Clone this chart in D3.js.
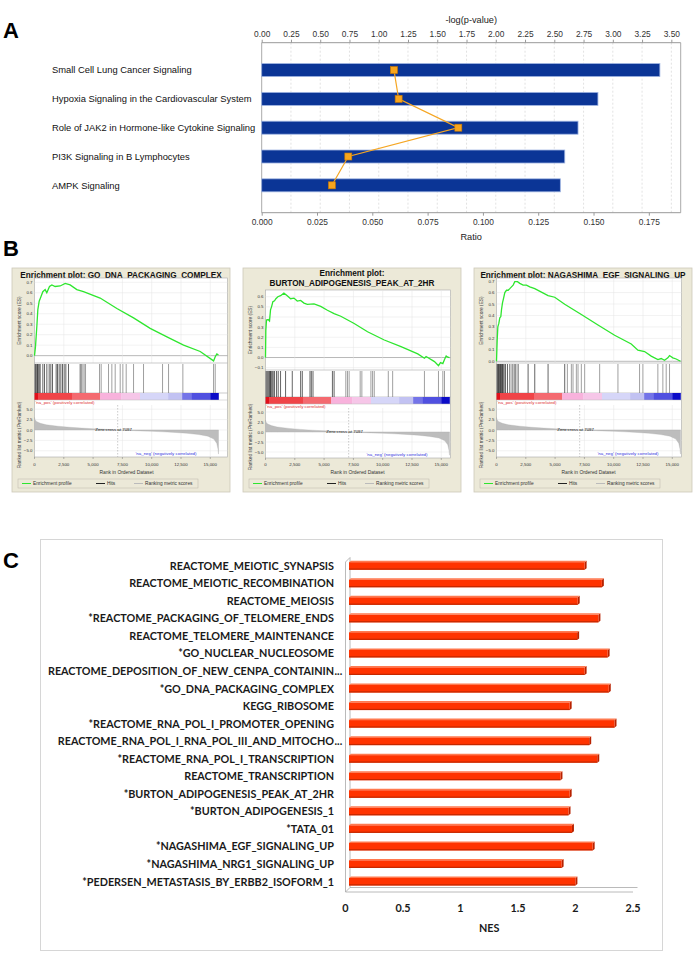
<!DOCTYPE html>
<html><head><meta charset="utf-8">
<script src="https://cdn.jsdelivr.net/npm/d3@7"></script>
<style>body{margin:0;background:#fff}svg{display:block}</style>
</head><body>
<svg id="c" width="700" height="960"></svg>
<script>
// ---------------- Panel A data ----------------
const pathways = ["Small Cell Lung Cancer Signaling","Hypoxia Signaling in the Cardiovascular System","Role of JAK2 in Hormone-like Cytokine Signaling","PI3K Signaling in B Lymphocytes","AMPK Signaling"];
const ratios = [0.180, 0.152, 0.143, 0.137, 0.135];
const negLogP = [1.13, 1.17, 1.68, 0.74, 0.60];
const ratioTicks = [0, 0.025, 0.05, 0.075, 0.1, 0.125, 0.15, 0.175];
const logpTicks = [0, 0.25, 0.5, 0.75, 1, 1.25, 1.5, 1.75, 2, 2.25, 2.5, 2.75, 3, 3.25, 3.5];

// ---------------- Panel B data ----------------
const gseaTitles = [["Enrichment plot: GO_DNA_PACKAGING_COMPLEX"], ["Enrichment plot:", "BURTON_ADIPOGENESIS_PEAK_AT_2HR"], ["Enrichment plot: NAGASHIMA_EGF_SIGNALING_UP"]];
const esCurve1 = [[0,0],[85,0.086],[200,0.28],[285,0.44],[400,0.52],[540,0.56],[710,0.61],[910,0.63],[1050,0.60],[1280,0.66],[1480,0.675],[1760,0.66],[2190,0.665],[2620,0.69],[3040,0.675],[3610,0.63],[4180,0.61],[4890,0.58],[5600,0.55],[7030,0.45],[8450,0.36],[9870,0.26],[11300,0.18],[12720,0.10],[14140,0.04],[15280,-0.05],[15420,-0.01],[15560,0.016],[15700,0.006]];
const esCurve2 = [[0,0],[29,0.27],[86,0.37],[228,0.375],[343,0.36],[428,0.47],[514,0.50],[628,0.55],[771,0.56],[885,0.58],[1056,0.60],[1285,0.61],[1570,0.635],[1856,0.61],[2141,0.58],[2427,0.586],[2712,0.557],[2998,0.563],[3283,0.537],[3569,0.524],[4140,0.53],[4711,0.505],[5282,0.466],[5853,0.433],[6424,0.407],[7566,0.336],[8708,0.254],[10135,0.173],[11563,0.107],[12990,0.036],[13561,-0.007],[13704,0.01],[14418,-0.04],[14760,-0.08],[14932,-0.05],[15132,-0.06],[15274,-0.02],[15417,0.016],[15560,0.003],[15700,0]];
const esCurve3 = [[0,0],[57,0.18],[114,0.30],[199,0.33],[284,0.38],[369,0.39],[426,0.45],[511,0.51],[625,0.56],[710,0.60],[852,0.62],[994,0.62],[1136,0.634],[1278,0.65],[1420,0.665],[1561,0.695],[1789,0.695],[1987,0.68],[2271,0.665],[2555,0.665],[2839,0.65],[3265,0.634],[3833,0.604],[4400,0.574],[4968,0.559],[5820,0.498],[7239,0.408],[8659,0.317],[10078,0.227],[11498,0.151],[12066,0.097],[12634,0.085],[13201,0.045],[13769,0.015],[14053,0.024],[14337,0.009],[14621,0.03],[14763,0.05],[15047,0.03],[15331,0.02],[15700,0]];
const hits1 = [57,114,199,256,313,398,484,711,854,1053,1252,1394,1536,1849,1963,2105,2248,2390,2532,2674,2902,3898,4011,4125,4239,4353,5548,5690,6316,6600,6885,7312,7539,7824,8450,9303,10925,11437,12660,15278,15420];
const hits2 = [57,143,228,314,371,428,485,571,657,771,942,1085,1285,1713,2284,2998,3141,3797,3911,4054,5710,5853,6852,6995,7137,8080,8223,8994,9137,9280,10478,10849,13561,14760,15132,15274];
const hits3 = [57,114,170,227,284,341,398,454,511,568,653,767,937,1136,1334,1505,1647,1845,2697,3265,4400,5820,6048,6388,6530,6814,6956,7239,7523,8801,10362,12208,12492,13769,14195,14479,14763];
const esTicks1 = [0,0.1,0.2,0.3,0.4,0.5,0.6,0.7];
const esTicks2 = [-0.1,0,0.1,0.2,0.3,0.4,0.5,0.6];
const esTicks3 = [0,0.1,0.2,0.3,0.4,0.5,0.6,0.7];
const rankMetric = [[0,3.0],[60,2.4],[200,2.0],[500,1.6],[1000,1.25],[2000,0.9],[3000,0.65],[4000,0.45],[5000,0.3],[6000,0.15],[7097,0],[8000,-0.12],[9000,-0.22],[10000,-0.32],[11000,-0.45],[12000,-0.6],[13000,-0.8],[14000,-1.1],[14800,-1.5],[15300,-2.2],[15550,-3.2],[15650,-4.5],[15700,-5.8]];
const rankTicks = [0,2500,5000,7500,10000,12500,15000];
const metricTicks = [5,2.5,0,-2.5,-5];
const colorBarEnds = [300,3200,5600,7400,9000,11400,12600,13400,15000,15700];
const colorBarColors = ["#e0101a","#f04448","#f46a70","#f8b2dc","#f6c6e8","#d6d6f8","#c2c2f2","#7474e8","#5050e0","#0c0cc8"];
const zeroCross = 7097;

// ---------------- Panel C data ----------------
const nesTerms = ["REACTOME_MEIOTIC_SYNAPSIS","REACTOME_MEIOTIC_RECOMBINATION","REACTOME_MEIOSIS","*REACTOME_PACKAGING_OF_TELOMERE_ENDS","REACTOME_TELOMERE_MAINTENANCE","*GO_NUCLEAR_NUCLEOSOME","REACTOME_DEPOSITION_OF_NEW_CENPA_CONTAININ...","*GO_DNA_PACKAGING_COMPLEX","KEGG_RIBOSOME","*REACTOME_RNA_POL_I_PROMOTER_OPENING","REACTOME_RNA_POL_I_RNA_POL_III_AND_MITOCHO...","*REACTOME_RNA_POL_I_TRANSCRIPTION","REACTOME_TRANSCRIPTION","*BURTON_ADIPOGENESIS_PEAK_AT_2HR","*BURTON_ADIPOGENESIS_1","*TATA_01","*NAGASHIMA_EGF_SIGNALING_UP","*NAGASHIMA_NRG1_SIGNALING_UP","*PEDERSEN_METASTASIS_BY_ERBB2_ISOFORM_1"];
const nesValues = [2.04,2.19,1.98,2.16,1.975,2.24,2.04,2.25,1.91,2.30,2.08,2.15,1.83,1.91,1.90,1.93,2.11,1.84,1.96];
const nesTicks = [0,0.5,1,1.5,2,2.5];

// =====================================================
const svg = d3.select("#c");
const SANS = "'Liberation Sans', Arial, sans-serif";

function panelLabel(t, x, y) {
  svg.append("text").attr("x", x).attr("y", y).attr("font-family", SANS).attr("font-weight", "bold")
    .attr("font-size", 22).attr("fill", "#000").text(t);
}
panelLabel("A", 3, 38);
panelLabel("B", 3, 256);
panelLabel("C", 3, 568);

// ---------------- Panel A ----------------
(function () {
  const A = { l: 261.7, r: 680.7, t: 42.7, b: 212.7 };
  const g = svg.append("g");
  const xR = d3.scaleLinear().domain([0, 0.19]).range([A.l, 682]);
  const xP = d3.scaleLinear().domain([0, 3.58]).range([A.l, A.r]);
  const y = d3.scalePoint().domain(pathways).range([A.t, A.b]).padding(0.95);

  g.selectAll(".grid").data(logpTicks.slice(1)).join("line")
    .attr("x1", d => xP(d)).attr("x2", d => xP(d)).attr("y1", A.t).attr("y2", A.b)
    .attr("stroke", "#d6d6d6").attr("stroke-dasharray", "2,2").attr("stroke-width", 0.7);
  g.append("line").attr("x1", A.l).attr("x2", A.l).attr("y1", A.t).attr("y2", A.b).attr("stroke", "#aaa");
  g.append("line").attr("x1", A.r).attr("x2", A.r).attr("y1", A.t).attr("y2", A.b).attr("stroke", "#aaa");

  g.selectAll(".bar").data(pathways).join("rect")
    .attr("x", A.l).attr("y", d => y(d) - 6.5)
    .attr("width", (d, i) => xR(ratios[i]) - A.l).attr("height", 13)
    .attr("fill", "#0b3596").attr("stroke", "#9fb4e2").attr("stroke-width", 0.8);

  g.selectAll(".lab").data(pathways).join("text")
    .attr("x", 52).attr("y", d => y(d)).attr("dy", "0.35em")
    .attr("font-family", SANS).attr("font-size", 9.4).attr("fill", "#111").text(d => d);

  const pts = pathways.map((p, i) => [xP(negLogP[i]), y(p)]);
  g.append("path").attr("d", d3.line()(pts)).attr("fill", "none").attr("stroke", "#f5a623").attr("stroke-width", 1.2);
  g.selectAll(".sq").data(pts).join("rect")
    .attr("x", d => d[0] - 3.5).attr("y", d => d[1] - 3.5).attr("width", 7).attr("height", 7)
    .attr("fill", "#f8a51c").attr("stroke", "#c87800").attr("stroke-width", 0.6);

  const top = g.append("g").attr("transform", `translate(0,${A.t})`)
    .call(d3.axisTop(xP).tickValues(logpTicks).tickFormat(d3.format(".2f")).tickSize(3).tickSizeOuter(0));
  const bot = g.append("g").attr("transform", `translate(0,${A.b})`)
    .call(d3.axisBottom(xR).tickValues(ratioTicks).tickFormat(d3.format(".3f")).tickSize(3).tickSizeOuter(0));
  [top, bot].forEach(ax => {
    ax.select(".domain").remove();
    ax.selectAll(".tick line").attr("stroke", "#999");
    ax.selectAll("text").attr("font-family", SANS).attr("font-size", 8.4).attr("fill", "#333");
  });
  g.append("line").attr("x1", A.l).attr("x2", A.r).attr("y1", A.t).attr("y2", A.t).attr("stroke", "#999");
  g.append("line").attr("x1", A.l).attr("x2", A.r).attr("y1", A.b).attr("y2", A.b).attr("stroke", "#999");

  g.append("text").attr("x", (A.l + A.r) / 2).attr("y", 23).attr("text-anchor", "middle")
    .attr("font-family", SANS).attr("font-size", 9.2).attr("fill", "#222").text("-log(p-value)");
  g.append("text").attr("x", (A.l + A.r) / 2).attr("y", 240).attr("text-anchor", "middle")
    .attr("font-family", SANS).attr("font-size", 9.2).attr("fill", "#222").text("Ratio");
})();

// ---------------- Panel B ----------------
const layoutOne = { title: [9.5], esTop: 10, esBot: 95, hitsBot: 125, cbBot: 132, rankTop: 137, rankBot: 189 };
const layoutTwo = { title: [7.5, 17.5], esTop: 22, esBot: 102, hitsBot: 129, cbBot: 136, rankTop: 140, rankBot: 190 };
const gseaCfg = [
  { x: 12, titles: gseaTitles[0], curve: esCurve1, hits: hits1, esDom: [-0.07, 0.741], esTicks: esTicks1, L: layoutOne, frameW: 193 },
  { x: 243, titles: gseaTitles[1], curve: esCurve2, hits: hits2, esDom: [-0.123, 0.666], esTicks: esTicks2, L: layoutTwo, frameW: 185 },
  { x: 474, titles: gseaTitles[2], curve: esCurve3, hits: hits3, esDom: [-0.015, 0.727], esTicks: esTicks3, L: layoutOne, frameW: 185 }
];

function drawGsea(cfg) {
  const g = svg.append("g");
  const T = 268, bx = cfg.x, bw = 218, bh = 224, L = cfg.L;
  const pl = bx + 22.5, pr = pl + cfg.frameW;
  const x = d3.scaleLinear().domain([0, 15700]).range([pl, pl + 184]);
  const yEs = d3.scaleLinear().domain(cfg.esDom).range([T + L.esBot, T + L.esTop]);
  const yR = d3.scaleLinear().domain([6, -6.5]).range([T + L.rankTop, T + L.rankBot]);
  const small = 4.4;

  g.append("rect").attr("x", bx).attr("y", T).attr("width", bw).attr("height", bh)
    .attr("fill", "#ece9d8").attr("stroke", "#cdc9ba").attr("stroke-width", 0.8);
  cfg.titles.forEach((t, i) => g.append("text").attr("x", bx + bw / 2).attr("y", T + L.title[i])
    .attr("text-anchor", "middle").attr("font-family", SANS).attr("font-weight", "bold")
    .attr("font-size", 8.2).attr("fill", "#111").text(t));

  g.append("rect").attr("x", pl).attr("y", T + L.esTop).attr("width", pr - pl).attr("height", L.rankBot - L.esTop)
    .attr("fill", "#fff").attr("stroke", "#a8a8a8").attr("stroke-width", 0.6);

  g.selectAll(".ges").data(cfg.esTicks).join("line")
    .attr("x1", pl).attr("x2", pr).attr("y1", d => yEs(d)).attr("y2", d => yEs(d))
    .attr("stroke", d => d === 0 ? "#9a9a9a" : "#e4e4e4").attr("stroke-width", d => d === 0 ? 0.7 : 0.5);
  g.selectAll(".gvx").data(rankTicks.slice(1)).join("line")
    .attr("x1", d => x(d)).attr("x2", d => x(d)).attr("y1", T + L.esTop).attr("y2", T + L.esBot)
    .attr("stroke", "#e4e4e4").attr("stroke-width", 0.5);
  g.append("path").attr("d", d3.line().x(d => x(d[0])).y(d => yEs(d[1]))(cfg.curve))
    .attr("fill", "none").attr("stroke", "#2ee62e").attr("stroke-width", 1.3);
  [L.esBot, L.hitsBot].forEach(v => g.append("line").attr("x1", pl).attr("x2", pr)
    .attr("y1", T + v).attr("y2", T + v).attr("stroke", "#a8a8a8").attr("stroke-width", 0.6));

  g.selectAll(".hit").data(cfg.hits).join("line")
    .attr("x1", d => x(d)).attr("x2", d => x(d)).attr("y1", T + L.esBot + 1).attr("y2", T + L.hitsBot)
    .attr("stroke", (d, i) => i < 22 ? "#222" : "#777").attr("stroke-width", 0.7);

  colorBarEnds.forEach((e, i) => {
    const s = i === 0 ? 0 : colorBarEnds[i - 1];
    g.append("rect").attr("x", x(s)).attr("y", T + L.hitsBot).attr("width", x(e) - x(s) + 0.3)
      .attr("height", L.cbBot - L.hitsBot).attr("fill", colorBarColors[i]);
  });
  g.append("line").attr("x1", pl).attr("x2", pr).attr("y1", T + L.cbBot).attr("y2", T + L.cbBot)
    .attr("stroke", "#bbb").attr("stroke-width", 0.5);
  g.append("text").attr("x", pl + 1).attr("y", T + L.cbBot + 4.3).attr("font-family", SANS)
    .attr("font-size", small).attr("fill", "#e03030").text("'na_pos' (positively correlated)");

  g.selectAll(".grk").data(metricTicks).join("line")
    .attr("x1", pl).attr("x2", pr).attr("y1", d => yR(d)).attr("y2", d => yR(d))
    .attr("stroke", "#e4e4e4").attr("stroke-width", 0.5);
  g.selectAll(".gvr").data(rankTicks.slice(1)).join("line")
    .attr("x1", d => x(d)).attr("x2", d => x(d)).attr("y1", T + L.rankTop).attr("y2", T + L.rankBot)
    .attr("stroke", "#e4e4e4").attr("stroke-width", 0.5);
  g.append("path").attr("d", d3.area().x(d => x(d[0])).y0(yR(0)).y1(d => yR(d[1]))(rankMetric))
    .attr("fill", "#bdbdbd").attr("stroke", "#aaa").attr("stroke-width", 0.3);
  g.append("line").attr("x1", x(zeroCross)).attr("x2", x(zeroCross)).attr("y1", T + L.rankTop).attr("y2", T + L.rankBot)
    .attr("stroke", "#999").attr("stroke-dasharray", "1.5,1.5").attr("stroke-width", 0.5);
  g.append("text").attr("x", x(zeroCross) - 4).attr("y", yR(0) + 1.3).attr("text-anchor", "middle")
    .attr("font-family", SANS).attr("font-size", small).attr("fill", "#222").text("Zero cross at " + zeroCross);
  g.append("text").attr("x", pl + 162).attr("y", T + L.rankBot - 2).attr("text-anchor", "end")
    .attr("font-family", SANS).attr("font-size", small).attr("fill", "#3030e0").text("'na_neg' (negatively correlated)");

  g.selectAll(".tes").data(cfg.esTicks).join("text")
    .attr("x", pl - 2).attr("y", d => yEs(d)).attr("dy", "0.35em").attr("text-anchor", "end")
    .attr("font-family", SANS).attr("font-size", small).attr("fill", "#333").text(d3.format(".1f"));
  g.selectAll(".trk").data(metricTicks).join("text")
    .attr("x", pl - 2).attr("y", d => yR(d)).attr("dy", "0.35em").attr("text-anchor", "end")
    .attr("font-family", SANS).attr("font-size", small).attr("fill", "#333").text(d3.format(".1f"));
  const esMid = T + (L.esTop + L.esBot) / 2, rkMid = T + (L.rankTop + L.rankBot) / 2 + 4;
  g.append("text").attr("transform", `translate(${bx + 9},${esMid}) rotate(-90)`).attr("text-anchor", "middle")
    .attr("font-family", SANS).attr("font-size", 4.8).attr("fill", "#444").text("Enrichment score (ES)");
  g.append("text").attr("transform", `translate(${bx + 9},${rkMid}) rotate(-90)`).attr("text-anchor", "middle")
    .attr("font-family", SANS).attr("font-size", 4.8).attr("fill", "#444").text("Ranked list metric (PreRanked)");

  g.selectAll(".xt").data(rankTicks).join("line")
    .attr("x1", d => x(d)).attr("x2", d => x(d)).attr("y1", T + L.rankBot).attr("y2", T + L.rankBot + 2)
    .attr("stroke", "#777").attr("stroke-width", 0.5);
  g.selectAll(".xl").data(rankTicks).join("text")
    .attr("x", d => x(d)).attr("y", T + 198).attr("text-anchor", "middle")
    .attr("font-family", SANS).attr("font-size", small).attr("fill", "#333").text(d3.format(","));
  g.append("text").attr("x", (pl + pl + 184) / 2).attr("y", T + 206).attr("text-anchor", "middle")
    .attr("font-family", SANS).attr("font-size", 4.9).attr("fill", "#333").text("Rank in Ordered Dataset");

  const ly = T + 215.5, lx = bx + 6;
  g.append("rect").attr("x", lx).attr("y", ly - 4.5).attr("width", 180).attr("height", 9)
    .attr("fill", "#ece9d8").attr("stroke", "#bdb9aa").attr("stroke-width", 0.5);
  const items = [["Enrichment profile", "#2ee62e", 4], ["Hits", "#222", 78], ["Ranking metric scores", "#bbb", 116]];
  items.forEach(([t, c, o]) => {
    g.append("line").attr("x1", lx + o).attr("x2", lx + o + 9).attr("y1", ly).attr("y2", ly).attr("stroke", c).attr("stroke-width", 1);
    g.append("text").attr("x", lx + o + 11).attr("y", ly).attr("dy", "0.35em").attr("font-family", SANS)
      .attr("font-size", 4.8).attr("fill", "#333").text(t);
  });
}
gseaCfg.forEach(drawGsea);

// ---------------- Panel C ----------------
(function () {
  const g = svg.append("g");
  const LATO = "Lato, 'Open Sans', sans-serif";
  const FS = 10.8;
  g.append("rect").attr("x", 40.5).attr("y", 539.5).attr("width", 622).attr("height", 411)
    .attr("fill", "#fff").attr("stroke", "#d6d6d6").attr("stroke-width", 1);
  const x = d3.scaleLinear().domain([0, 2.5]).range([345.5, 633]);
  const y = d3.scaleBand().domain(nesTerms).range([557.2, 890.5]);
  const d = 4.5;
  const x0 = x(0), yB = 892;
  const fr = "#a8a8a8";
  g.append("path").attr("d", `M${x0},${yB} L${x0},562 L${x0 + d},${562 - d} L${x0 + d},${yB - d}`).attr("fill", "none").attr("stroke", fr).attr("stroke-width", 0.8);
  g.append("path").attr("d", `M${x0},${yB} L${x(2.5)},${yB} M${x0},${yB} L${x0 + d},${yB - d} L${x(2.5) + d},${yB - d}`).attr("fill", "none").attr("stroke", fr).attr("stroke-width", 0.8);

  const bh = 7.5;
  nesTerms.forEach((t, i) => {
    const cy = y(t) + y.bandwidth() / 2;
    const xs = x0 + d - 1, xe = x(nesValues[i]) + d;
    g.append("path").attr("d", `M${xe},${cy - bh / 2} L${xe + 2},${cy - bh / 2 - 1.5} L${xe + 2},${cy + bh / 2 - 1.5} L${xe},${cy + bh / 2} Z`).attr("fill", "#b82200");
    g.append("path").attr("d", `M${xs},${cy - bh / 2} L${xs + 2},${cy - bh / 2 - 1.5} L${xe + 2},${cy - bh / 2 - 1.5} L${xe},${cy - bh / 2} Z`).attr("fill", "#ff7a50");
    g.append("rect").attr("x", xs).attr("y", cy - bh / 2).attr("width", xe - xs).attr("height", bh)
      .attr("fill", "#ff3300");
    g.append("rect").attr("x", xs).attr("y", cy + bh / 2 - 1.2).attr("width", xe - xs).attr("height", 1.2).attr("fill", "#c42800");
    const ell = t.endsWith("...");
    const base = ell ? t.slice(0, -3) : t;
    g.append("text").attr("x", 334).attr("y", cy).attr("dy", "0.35em").attr("text-anchor", "end")
      .attr("font-family", LATO).attr("font-weight", "bold").attr("font-size", FS).attr("fill", "#1a1a1a").text(base);
    if (ell) g.append("text").attr("x", 334.5).attr("y", cy).attr("dy", "0.35em")
      .attr("font-family", LATO).attr("font-weight", "bold").attr("font-size", FS).attr("fill", "#1a1a1a").text("...");
  });

  g.selectAll(".nt").data(nesTicks).join("text")
    .attr("x", v => x(v)).attr("y", 908).attr("dy", "0.35em").attr("text-anchor", "middle")
    .attr("font-family", LATO).attr("font-weight", "bold").attr("font-size", FS).attr("fill", "#1a1a1a")
    .text(v => String(v));
  g.append("text").attr("x", (x(0) + x(2.5)) / 2).attr("y", 928).attr("dy", "0.35em").attr("text-anchor", "middle")
    .attr("font-family", LATO).attr("font-weight", "bold").attr("font-size", FS).attr("fill", "#1a1a1a").text("NES");
})();
</script>
</body></html>
